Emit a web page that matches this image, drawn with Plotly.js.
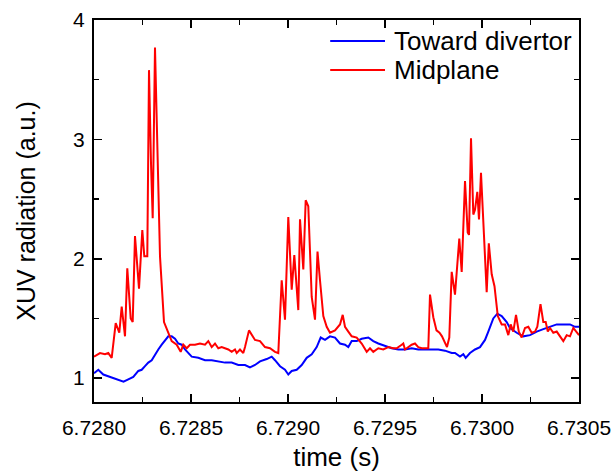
<!DOCTYPE html>
<html>
<head>
<meta charset="utf-8">
<script src="https://cdn.plot.ly/plotly-3.0.1.min.js"></script>
<style>html,body{margin:0;padding:0;background:#fff;}#chart{width:612px;height:472px;}</style>
</head>
<body>
<div id="chart"></div>
<script>
// Midplane (red)
const midTime = [6.7280000,6.7280309,6.7280567,6.7280737,6.7280912,6.7281119,6.7281304,6.7281428,6.7281598,6.7281716,6.7281892,6.7281995,6.7282113,6.7282320,6.7282490,6.7282593,6.7282747,6.7282835,6.7282938,6.7283026,6.7283144,6.7283232,6.7283402,6.7283608,6.7283830,6.7284005,6.7284263,6.7284469,6.7284603,6.7284778,6.7284948,6.7285206,6.7285464,6.7285722,6.7285892,6.7286067,6.7286237,6.7286407,6.7286582,6.7286753,6.7286923,6.7287098,6.7287268,6.7287356,6.7287526,6.7287696,6.7287784,6.7287990,6.7288160,6.7288299,6.7288557,6.7288814,6.7289072,6.7289330,6.7289500,6.7289675,6.7289845,6.7290015,6.7290191,6.7290325,6.7290531,6.7290619,6.7290789,6.7290912,6.7291046,6.7291222,6.7291392,6.7291521,6.7291649,6.7291820,6.7291995,6.7292165,6.7292423,6.7292680,6.7292820,6.7292938,6.7293108,6.7293284,6.7293541,6.7293799,6.7294057,6.7294227,6.7294397,6.7294655,6.7294912,6.7295170,6.7295428,6.7295603,6.7295861,6.7295943,6.7296031,6.7296201,6.7296376,6.7296546,6.7296716,6.7296892,6.7297062,6.7297232,6.7297320,6.7297490,6.7297655,6.7297809,6.7297938,6.7298093,6.7298196,6.7298314,6.7298438,6.7298608,6.7298830,6.7298953,6.7299124,6.7299263,6.7299330,6.7299433,6.7299552,6.7299639,6.7299758,6.7299845,6.7299948,6.7300242,6.7300351,6.7300500,6.7300644,6.7300814,6.7301015,6.7301186,6.7301356,6.7301479,6.7301613,6.7301753,6.7301897,6.7302046,6.7302216,6.7302387,6.7302562,6.7302732,6.7302851,6.7303015,6.7303160,6.7303284,6.7303392,6.7303505,6.7303675,6.7303851,6.7304021,6.7304191,6.7304366,6.7304536,6.7304706,6.7304881,6.7305000];
const midValue = [1.18,1.21,1.20,1.21,1.17,1.46,1.38,1.60,1.35,1.92,1.50,1.47,2.19,1.75,2.24,2.02,2.02,3.58,2.80,2.34,3.77,3.08,2.02,1.47,1.38,1.31,1.28,1.22,1.28,1.25,1.28,1.28,1.29,1.28,1.31,1.26,1.29,1.25,1.26,1.25,1.24,1.22,1.24,1.21,1.24,1.21,1.26,1.40,1.36,1.32,1.31,1.26,1.25,1.22,1.21,1.82,1.49,2.35,1.74,2.03,1.57,2.33,1.91,2.49,2.44,1.68,1.49,2.06,1.82,1.52,1.43,1.38,1.40,1.45,1.53,1.43,1.39,1.35,1.34,1.29,1.22,1.25,1.22,1.25,1.24,1.26,1.25,1.25,1.28,1.29,1.24,1.26,1.28,1.29,1.26,1.25,1.25,1.25,1.70,1.51,1.40,1.38,1.35,1.29,1.26,1.34,1.89,1.70,2.17,1.89,2.65,2.22,2.20,3.01,2.37,2.41,2.56,2.33,2.72,1.72,2.13,1.87,1.77,1.52,1.45,1.45,1.36,1.45,1.39,1.53,1.39,1.34,1.42,1.43,1.38,1.39,1.43,1.62,1.47,1.47,1.39,1.42,1.38,1.39,1.35,1.31,1.36,1.35,1.42,1.38,1.36];

// Toward divertor (blue)
const divTime = [6.7280000,6.7280222,6.7280479,6.7280825,6.7281170,6.7281521,6.7281768,6.7282026,6.7282284,6.7282459,6.7282629,6.7282799,6.7282974,6.7283144,6.7283314,6.7283490,6.7283660,6.7283830,6.7284005,6.7284175,6.7284345,6.7284521,6.7284691,6.7285036,6.7285376,6.7285722,6.7286067,6.7286407,6.7286753,6.7287098,6.7287438,6.7287784,6.7288041,6.7288299,6.7288557,6.7288902,6.7289160,6.7289330,6.7289588,6.7289845,6.7290015,6.7290191,6.7290449,6.7290706,6.7290964,6.7291222,6.7291479,6.7291686,6.7291907,6.7292165,6.7292423,6.7292680,6.7292938,6.7293108,6.7293284,6.7293541,6.7293799,6.7294139,6.7294397,6.7294655,6.7295000,6.7295345,6.7295686,6.7296031,6.7296376,6.7296716,6.7297062,6.7297407,6.7297747,6.7298093,6.7298438,6.7298608,6.7298866,6.7299036,6.7299160,6.7299381,6.7299639,6.7299897,6.7300155,6.7300325,6.7300582,6.7300789,6.7301015,6.7301273,6.7301443,6.7301789,6.7302129,6.7302474,6.7302820,6.7303160,6.7303505,6.7303851,6.7304191,6.7304536,6.7304794,6.7305000];
const divValue = [1.04,1.07,1.03,1.01,0.99,0.97,0.99,1.01,1.06,1.07,1.10,1.13,1.15,1.20,1.24,1.28,1.32,1.35,1.35,1.33,1.29,1.28,1.24,1.18,1.17,1.15,1.15,1.14,1.13,1.13,1.11,1.11,1.09,1.11,1.14,1.16,1.18,1.15,1.10,1.07,1.03,1.06,1.07,1.11,1.17,1.20,1.26,1.34,1.32,1.35,1.34,1.29,1.28,1.26,1.31,1.31,1.33,1.34,1.31,1.29,1.27,1.25,1.24,1.24,1.25,1.24,1.24,1.24,1.24,1.23,1.21,1.21,1.18,1.20,1.17,1.21,1.24,1.26,1.32,1.39,1.50,1.54,1.52,1.47,1.42,1.38,1.35,1.36,1.39,1.41,1.43,1.45,1.45,1.45,1.43,1.43];

const seriesNames = ["Toward divertor", "Midplane"];
const seriesColors = ["#0000ff", "#ff0000"];
const xTickVals = [6.7280, 6.7285, 6.7290, 6.7295, 6.7300, 6.7305];
const xTickText = ["6.7280", "6.7285", "6.7290", "6.7295", "6.7300", "6.7305"];
const yTickVals = [1, 2, 3, 4];
const yTickText = ["1", "2", "3", "4"];

const FONT = "Liberation Sans, Arial, sans-serif";

const traces = [
  {x: divTime, y: divValue, name: seriesNames[0], type: "scatter", mode: "lines",
   line: {color: seriesColors[0], width: 2}},
  {x: midTime, y: midValue, name: seriesNames[1], type: "scatter", mode: "lines",
   line: {color: seriesColors[1], width: 2}}
];

const axisCommon = {
  showgrid: false, zeroline: false, showline: true, linecolor: "#000", linewidth: 2,
  mirror: "ticks", ticks: "inside", ticklen: 8, tickwidth: 1.5, tickcolor: "#000",
  tickfont: {family: FONT, size: 21, color: "#000"}, automargin: false
};

// Legend drawn in paper coordinates (line sample + label) to match the reference layout
const legRowsY = [0.945, 0.869];
const legShapes = seriesNames.map((n, i) => ({
  type: "line", xref: "paper", yref: "paper", x0: 0.487, x1: 0.6, y0: legRowsY[i], y1: legRowsY[i],
  line: {color: seriesColors[i], width: 2}
}));
const legAnn = seriesNames.map((n, i) => ({
  xref: "paper", yref: "paper", x: 0.614, y: legRowsY[i], xanchor: "left", yanchor: "middle",
  text: n, showarrow: false, font: {family: FONT, size: 26, color: "#000"}
}));

const layout = {
  width: 612, height: 472,
  margin: {l: 94, r: 33, t: 20, b: 70},
  paper_bgcolor: "#fff", plot_bgcolor: "#fff",
  font: {family: FONT, color: "#000"},
  showlegend: false,
  shapes: legShapes,
  annotations: legAnn,
  xaxis: Object.assign({}, axisCommon, {
    range: [6.7280, 6.7305], tickmode: "array", tickvals: xTickVals, ticktext: xTickText,
    ticklabelstandoff: 6,
    minor: {dtick: 0.00025, ticks: "inside", ticklen: 5, tickwidth: 1.5, tickcolor: "#000", showgrid: false},
    title: {text: "time (s)", standoff: 13, font: {family: FONT, size: 26, color: "#000"}}
  }),
  yaxis: Object.assign({}, axisCommon, {
    range: [0.8, 4.0], tickmode: "array", tickvals: yTickVals, ticktext: yTickText,
    ticklabelstandoff: 3,
    minor: {dtick: 0.5, tick0: 0.5, ticks: "inside", ticklen: 5, tickwidth: 1.5, tickcolor: "#000", showgrid: false},
    title: {text: "XUV radiation (a.u.)", standoff: 30, font: {family: FONT, size: 25, color: "#000"}}
  })
};

Plotly.newPlot("chart", traces, layout, {displayModeBar: false, staticPlot: true});
</script>
</body>
</html>
